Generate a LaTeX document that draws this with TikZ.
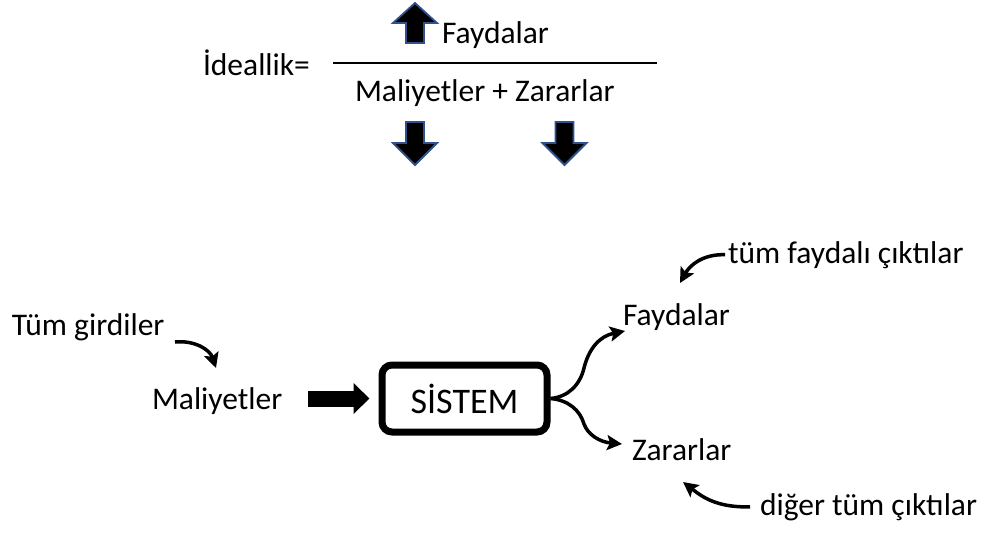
\documentclass[tikz,border=0pt]{standalone}
\usepackage{fontspec}
\setmainfont{Carlito}
\usetikzlibrary{arrows.meta}
\definecolor{outl}{RGB}{47,82,143}
\tikzset{
  txt/.style={inner sep=0pt, outer sep=0pt, anchor=base west, font=\fontsize{31.5}{38}\selectfont},
  blockarrow/.style={fill=black, draw=outl, line width=1.8pt, line join=miter},
  curvy/.style={line width=3.5pt, -{Stealth[length=15pt,width=15pt,inset=3pt]}},
  bigarrow/.style={line width=16pt, -{Triangle[length=16pt,width=30pt]}},
  sysbox/.style={draw, line width=7pt, rounded corners=10pt, minimum width=165pt, minimum height=67pt, inner sep=0pt, font=\fontsize{36}{42}\selectfont}
}
\begin{document}
\begin{tikzpicture}[x=1pt,y=-1pt]
\useasboundingbox (0,0) rectangle (986,533);
% top formula
\node[txt] (ideal) at (203,75) {İdeallik=};
\node[txt] (fay1) at (442,43) {Faydalar};
\node[txt] (mz) at (355,101) {Maliyetler + Zararlar};
\draw[line width=1.6pt] (333,63) -- (657,63);
\draw[blockarrow] (393,23) -- (415,3) -- (437,23) -- (424,23) -- (424,43) -- (406,43) -- (406,23) -- cycle;
\draw[blockarrow] (406,122) -- (424,122) -- (424,143) -- (437,143) -- (415,165) -- (393,143) -- (406,143) -- cycle;
\draw[blockarrow] (555.5,122) -- (573.5,122) -- (573.5,143) -- (586.5,143) -- (564.5,165) -- (542.5,143) -- (555.5,143) -- cycle;
% bottom system
\node[txt] (tum) at (12,335) {Tüm girdiler};
\node[txt] (mal) at (152,409) {Maliyetler};
\node[sysbox] (sis) at (464.5,398.5) {SİSTEM};
\node[txt] (fay2) at (623,325) {Faydalar};
\node[txt] (zar) at (632,460) {Zararlar};
\node[txt] (tfc) at (728,263) {tüm faydalı çıktılar};
\node[txt] (dtc) at (760,515) {diğer tüm çıktılar};
\coordinate (tumend) at (216,368);
\coordinate (faytip) at (625,331);
\coordinate (zartip) at (622,444);
\coordinate (tfctip) at (680,283);
\coordinate (dtctip) at (683,482);
\draw[bigarrow] ([xshift=26pt]mal.east |- sis.west) -- ([xshift=-9pt]sis.west);
\draw[curvy] (175,342) .. controls (195,340) and (210,350) .. (tumend);
\draw[curvy] (sis.east) .. controls (568,397) and (580,385) .. (584,368) .. controls (589,348) and (600,336) .. (faytip);
\draw[curvy] (sis.east) .. controls (568,400) and (580,410) .. (584,424) .. controls (588,435) and (600,442) .. (zartip);
\draw[curvy] ([xshift=-3pt]tfc.west) .. controls (703,254) and (690,265) .. (tfctip);
\draw[curvy] ([xshift=-10pt]dtc.west) .. controls (715,508) and (700,495) .. (dtctip);
\end{tikzpicture}
\end{document}
